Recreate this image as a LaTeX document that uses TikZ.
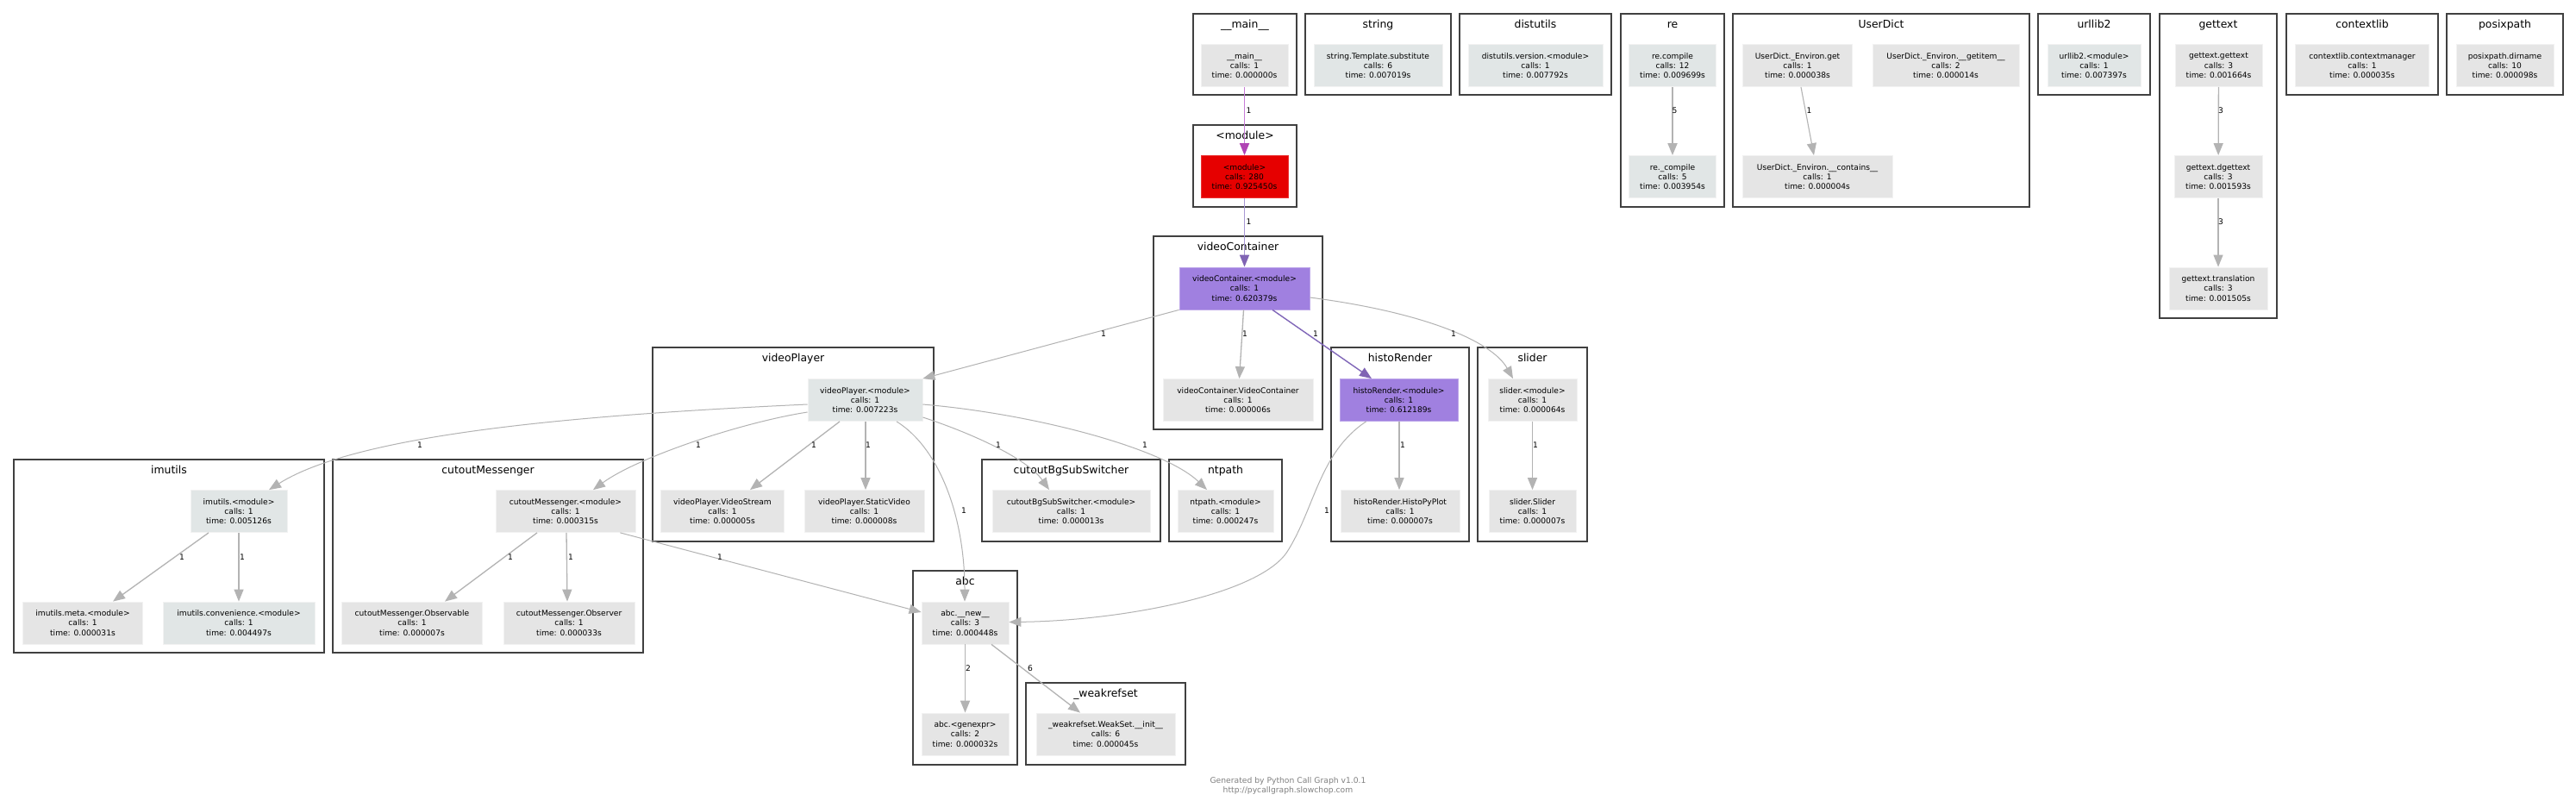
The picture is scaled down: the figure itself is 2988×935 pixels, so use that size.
\documentclass[tikz,border=0pt]{standalone}
\usepackage{fontspec}
\setmainfont{DejaVu Sans}
\usetikzlibrary{arrows.meta}
\definecolor{clborder}{HTML}{404040}
\definecolor{ngrey}{HTML}{E5E5E5}
\definecolor{nblue}{HTML}{E1E6E6}
\definecolor{nred}{HTML}{E60000}
\definecolor{npurple}{HTML}{A080E0}
\definecolor{egrey}{HTML}{B3B3B3}
\definecolor{eorchid}{HTML}{C87DD8}
\definecolor{eorchidhead}{HTML}{B044B4}
\definecolor{elav}{HTML}{A898D4}
\definecolor{elavhead}{HTML}{8064B4}
\definecolor{epurple}{HTML}{8066B8}
\definecolor{footgrey}{HTML}{808080}
\begin{document}
\begin{tikzpicture}[x=1pt,y=-1pt,
  fn/.style={fill=ngrey, draw=white!50!ngrey, line width=0.8pt, inner sep=0pt, minimum height=49pt,
    align=center, font=\fontsize{9.1}{11.2}\selectfont, text=black},
  w/.style={minimum width=#1pt},
  cbox/.style={draw=clborder, line width=2.2pt},
  ctext/.style={font=\fontsize{12.4}{14}\selectfont, inner sep=0pt, anchor=base},
  elab/.style={font=\fontsize{9.1}{11}\selectfont, inner sep=0pt},
  ce/.style={draw=egrey, line width=1.3pt, -{Triangle[length=14pt,width=11pt]}},
  cthin/.style={ce, line width=1pt},
  cpurple/.style={draw=epurple, line width=1.4pt, -{Triangle[length=14pt,width=11pt,color=elavhead]}},
  clav/.style={draw=elav, line width=1.8pt, -{Triangle[length=14pt,width=11pt,color=elavhead]}},
  corchid/.style={draw=eorchid, line width=1.8pt, -{Triangle[length=14pt,width=11pt,color=eorchidhead]}}
]
\useasboundingbox[fill=white] (0,0) rectangle (2988,935);

% clusters
\draw[cbox] (1384,16) rectangle (1504,110);   \node[ctext] (tmain) at (1444,32.5) {\_\_main\_\_};
\draw[cbox] (1384,145) rectangle (1504,240);  \node[ctext] (tmod) at (1444,161.5) {<module>};
\draw[cbox] (1514,16) rectangle (1683,110);   \node[ctext] (tstring) at (1598.5,32.5) {string};
\draw[cbox] (1693,16) rectangle (1869,110);   \node[ctext] (tdist) at (1781,32.5) {distutils};
\draw[cbox] (1880,16) rectangle (2000,240);   \node[ctext] (tre) at (1940,32.5) {re};
\draw[cbox] (2010,16) rectangle (2354,240);   \node[ctext] (tud) at (2182,32.5) {UserDict};
\draw[cbox] (2364,16) rectangle (2494,110);   \node[ctext] (turl) at (2429,32.5) {urllib2};
\draw[cbox] (2505,16) rectangle (2641,369);   \node[ctext] (tgt) at (2573,32.5) {gettext};
\draw[cbox] (2652,16) rectangle (2828,110);   \node[ctext] (tctx) at (2740,32.5) {contextlib};
\draw[cbox] (2838,16) rectangle (2973,110);   \node[ctext] (tpp) at (2905.5,32.5) {posixpath};
\draw[cbox] (1338,274) rectangle (1534,498);  \node[ctext] (tvc) at (1436,290.5) {videoContainer};
\draw[cbox] (757,403) rectangle (1083,628);   \node[ctext] (tvp) at (920,419.5) {videoPlayer};
\draw[cbox] (1544,403) rectangle (1704,628);  \node[ctext] (thr) at (1624,419.5) {histoRender};
\draw[cbox] (1714,403) rectangle (1841,628);  \node[ctext] (tsl) at (1777.5,419.5) {slider};
\draw[cbox] (16,533) rectangle (376,757);     \node[ctext] (timu) at (196,549.5) {imutils};
\draw[cbox] (386,533) rectangle (746,757);    \node[ctext] (tcm) at (566,549.5) {cutoutMessenger};
\draw[cbox] (1139,533) rectangle (1346,628);  \node[ctext] (tcbg) at (1242.5,549.5) {cutoutBgSubSwitcher};
\draw[cbox] (1356,533) rectangle (1487,628);  \node[ctext] (tnt) at (1421.5,549.5) {ntpath};
\draw[cbox] (1059,662) rectangle (1180,887);  \node[ctext] (tabc) at (1119.5,678.5) {abc};
\draw[cbox] (1190,792) rectangle (1375,887);  \node[ctext] (twr) at (1282.5,808.5) {\_weakrefset};

% nodes rank 1
\node[fn,w=101] (main) at (1443.5,76) {\_\_main\_\_\\calls: 1\\time: 0.000000s};
\node[fn,fill=nblue,w=149] (strsub) at (1598.5,76) {string.Template.substitute\\calls: 6\\time: 0.007019s};
\node[fn,fill=nblue,w=156] (distv) at (1781,76) {distutils.version.<module>\\calls: 1\\time: 0.007792s};
\node[fn,fill=nblue,w=101] (recomp) at (1940,76) {re.compile\\calls: 12\\time: 0.009699s};
\node[fn,w=127] (udget) at (2085,76) {UserDict.\_Environ.get\\calls: 1\\time: 0.000038s};
\node[fn,w=170] (udgetitem) at (2257,76) {UserDict.\_Environ.\_\_getitem\_\_\\calls: 2\\time: 0.000014s};
\node[fn,fill=nblue,w=108] (urlmod) at (2429,76) {urllib2.<module>\\calls: 1\\time: 0.007397s};
\node[fn,w=101] (gtg) at (2573.5,76) {gettext.gettext\\calls: 3\\time: 0.001664s};
\node[fn,w=155] (ctxm) at (2740,76) {contextlib.contextmanager\\calls: 1\\time: 0.000035s};
\node[fn,w=113] (pdir) at (2905.5,76) {posixpath.dirname\\calls: 10\\time: 0.000098s};
% rank 2
\node[fn,fill=nred,draw=nred!80!white,w=101] (modu) at (1443.5,205) {<module>\\calls: 280\\time: 0.925450s};
\node[fn,fill=nblue,w=101] (recomp2) at (1940,205) {re.\_compile\\calls: 5\\time: 0.003954s};
\node[fn,w=174] (udcont) at (2108,205) {UserDict.\_Environ.\_\_contains\_\_\\calls: 1\\time: 0.000004s};
\node[fn,w=102] (gtdg) at (2573,205) {gettext.dgettext\\calls: 3\\time: 0.001593s};
% rank 3
\node[fn,fill=npurple,draw=npurple!70!white,w=151] (vcmod) at (1443.5,334.5) {videoContainer.<module>\\calls: 1\\time: 0.620379s};
\node[fn,w=114] (gttr) at (2573,334.5) {gettext.translation\\calls: 3\\time: 0.001505s};
% rank 4
\node[fn,w=174] (vcvc) at (1436,464) {videoContainer.VideoContainer\\calls: 1\\time: 0.000006s};
\node[fn,fill=npurple,draw=npurple!70!white,w=137] (hrmod) at (1622.5,464) {histoRender.<module>\\calls: 1\\time: 0.612189s};
\node[fn,w=103] (slmod) at (1777.5,464) {slider.<module>\\calls: 1\\time: 0.000064s};
\node[fn,fill=nblue,w=133] (vpmod) at (1003.5,464) {videoPlayer.<module>\\calls: 1\\time: 0.007223s};
% rank 5
\node[fn,w=143] (vpvs) at (838,593) {videoPlayer.VideoStream\\calls: 1\\time: 0.000005s};
\node[fn,w=139] (vpsv) at (1002.5,593) {videoPlayer.StaticVideo\\calls: 1\\time: 0.000008s};
\node[fn,w=183] (cbgmod) at (1242.5,593) {cutoutBgSubSwitcher.<module>\\calls: 1\\time: 0.000013s};
\node[fn,w=111] (ntmod) at (1421.5,593) {ntpath.<module>\\calls: 1\\time: 0.000247s};
\node[fn,w=138] (hrplot) at (1624,593) {histoRender.HistoPyPlot\\calls: 1\\time: 0.000007s};
\node[fn,w=101] (slsl) at (1777.5,593) {slider.Slider\\calls: 1\\time: 0.000007s};
\node[fn,fill=nblue,w=112] (imumod) at (277,593) {imutils.<module>\\calls: 1\\time: 0.005126s};
\node[fn,w=162] (cmmod) at (656,593) {cutoutMessenger.<module>\\calls: 1\\time: 0.000315s};
% rank 6
\node[fn,w=139] (imumeta) at (96,722.5) {imutils.meta.<module>\\calls: 1\\time: 0.000031s};
\node[fn,fill=nblue,w=176] (imuconv) at (277,722.5) {imutils.convenience.<module>\\calls: 1\\time: 0.004497s};
\node[fn,w=163] (cmobs) at (478,722.5) {cutoutMessenger.Observable\\calls: 1\\time: 0.000007s};
\node[fn,w=152] (cmobsr) at (660,722.5) {cutoutMessenger.Observer\\calls: 1\\time: 0.000033s};
\node[fn,w=101] (abcnew) at (1119.5,722.5) {abc.\_\_new\_\_\\calls: 3\\time: 0.000448s};
% rank 7
\node[fn,w=101] (abcgen) at (1119.5,851.5) {abc.<genexpr>\\calls: 2\\time: 0.000032s};
\node[fn,w=161] (wrinit) at (1282.5,851.5) {\_weakrefset.WeakSet.\_\_init\_\_\\calls: 6\\time: 0.000045s};

\coordinate (hrmid) at (1493,640);

% edges
\draw[corchid] (main) -- (modu);
\draw[clav] (modu) -- (vcmod);
\draw[ce, line width=1.8pt] (recomp) -- (recomp2);
\draw[ce, line width=1.1pt] ([xshift=4pt]udget.south) -- ([xshift=-4pt]udcont.north);
\draw[ce] (gtg) -- (gtdg);
\draw[ce] (gtdg) -- (gttr);
\draw[ce] ([xshift=-1pt]vcmod.south) -- ([xshift=1.5pt]vcvc.north);
\draw[cpurple] ([xshift=32.5pt]vcmod.south) -- ([xshift=-31.5pt]hrmod.north);
\draw[cthin] ([yshift=-10.5pt]vcmod.east) .. controls (1650,362) and (1730,395) .. ([xshift=-22.5pt]slmod.north);
\draw[cthin] (vcmod.south west) -- (vpmod.north east);
\draw[cthin] ([yshift=-5pt]vpmod.west) .. controls (700,480) and (420,500) .. ([xshift=35pt]imumod.north);
\draw[cthin] ([yshift=-14pt]vpmod.west) .. controls (860,490) and (740,530) .. ([xshift=32pt]cmmod.north);
\draw[ce] ([xshift=-29.5pt]vpmod.south) -- ([xshift=32pt]vpvs.north);
\draw[ce] ([xshift=0.5pt]vpmod.south) -- ([xshift=1.5pt]vpsv.north);
\draw[cthin] ([xshift=36.5pt]vpmod.south) .. controls (1090,520) and (1119,600) .. ([xshift=-0.5pt]abcnew.north);
\draw[cthin] ([yshift=-20pt]vpmod.east) .. controls (1120,500) and (1190,530) .. ([xshift=-25.5pt]cbgmod.north);
\draw[cthin] ([yshift=-5pt]vpmod.east) .. controls (1200,480) and (1350,520) .. ([xshift=-21.5pt]ntmod.north);
\draw[ce, line width=1.5pt] ([xshift=0.5pt]hrmod.south) -- ([xshift=-1pt]hrplot.north);
\draw[cthin] ([xshift=31pt]hrmod.south west) .. controls (1530,525) and (1525,590) .. (hrmid)
   .. controls (1460,690) and (1300,720) .. ([yshift=1pt]abcnew.east);
\draw[ce, line width=1.5pt] (slmod) -- (slsl);
\draw[cthin] ([xshift=-18pt]cmmod.south east) -- ([yshift=12.5pt]abcnew.west);
\draw[ce] ([xshift=-35pt]imumod.south) -- ([xshift=35pt]imumeta.north);
\draw[ce] (imumod) -- (imuconv);
\draw[ce] ([xshift=-33pt]cmmod.south) -- ([xshift=38pt]cmobs.north);
\draw[ce] ([xshift=1pt]cmmod.south) -- ([xshift=-2pt]cmobsr.north);
\draw[ce, line width=1.8pt] (abcnew) -- (abcgen);
\draw[ce] ([xshift=30.5pt]abcnew.south) -- ([xshift=-29.5pt]wrinit.north);

% edge labels
\node[elab] (l01) at (1448.5,128) {1};
\node[elab] (l02) at (1448.5,257) {1};
\node[elab] (l03) at (1942.5,128) {5};
\node[elab] (l04) at (2098.6,128) {1};
\node[elab] (l05) at (2576,128) {3};
\node[elab] (l06) at (2576,257) {3};
\node[elab] (l07) at (1444,387) {1};
\node[elab] (l08) at (1526,387) {1};
\node[elab] (l09) at (1686,387) {1};
\node[elab] (l10) at (1280,387) {1};
\node[elab] (l11) at (487,516) {1};
\node[elab] (l12) at (810,516) {1};
\node[elab] (l13) at (944,516) {1};
\node[elab] (l14) at (1007,516) {1};
\node[elab] (l15) at (1158,516) {1};
\node[elab] (l16) at (1328,516) {1};
\node[elab] (l17) at (1627,516) {1};
\node[elab] (l18) at (1781,516) {1};
\node[elab] (l19) at (1118,592) {1};
\node[elab] (l20) at (1539,592) {1};
\node[elab] (l21) at (211,646) {1};
\node[elab] (l22) at (281,646) {1};
\node[elab] (l23) at (592,646) {1};
\node[elab] (l24) at (662,646) {1};
\node[elab] (l25) at (835,646) {1};
\node[elab] (l26) at (1123,775) {2};
\node[elab] (l27) at (1195,775) {6};

% footer
\node[font=\fontsize{9.2}{11}\selectfont, text=footgrey, align=center, inner sep=0pt] (footer) at (1494,911.5)
  {Generated by Python Call Graph v1.0.1\\http://pycallgraph.slowchop.com};
\end{tikzpicture}
\end{document}
